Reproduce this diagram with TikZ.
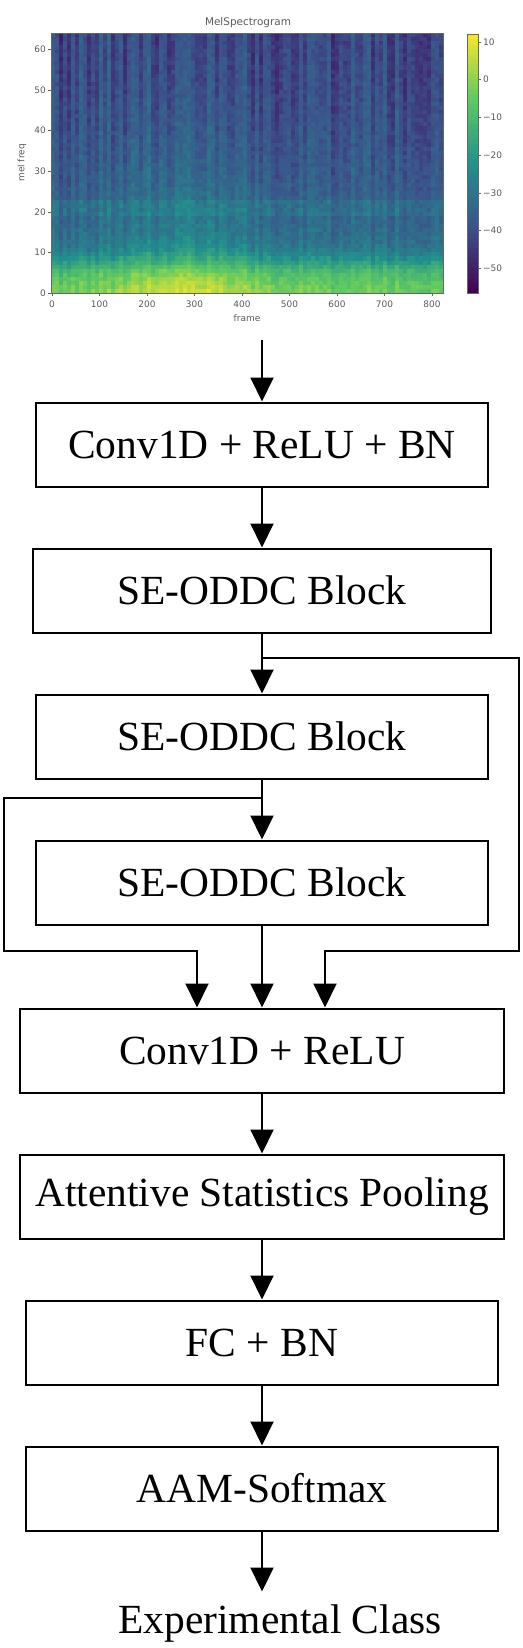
\documentclass[tikz,border=0pt]{standalone}
\usepackage{fontspec}
\setmainfont{Liberation Serif}
\newfontfamily\plotfont{DejaVu Sans}
\usepackage{tikz}
\usetikzlibrary{arrows.meta,positioning,calc}
\definecolor{vz0}{RGB}{68,1,84}
\definecolor{vz1}{RGB}{59,82,139}
\definecolor{vz2}{RGB}{33,145,140}
\definecolor{vz3}{RGB}{94,201,98}
\definecolor{vz4}{RGB}{253,231,37}
\tikzstyle{block} = [rectangle, minimum height=84bp, text centered, draw=black, line width=2bp, inner sep=0pt, font=\fontsize{41.6}{50}\selectfont]
\tikzstyle{arrow} = [line width=2bp, -{Triangle[width=23bp,length=24bp]}]
\tikzstyle{tick} = [font=\plotfont\fontsize{9}{10}\selectfont, text=black!65, inner sep=1bp]

\begin{document}
\begin{tikzpicture}[x=1bp, y=-1bp, node distance=60bp]
\useasboundingbox (0,0) rectangle (523,1648);
% mel spectrogram
\pgfmathsetseed{11}
\foreach \i in {0,...,97}{
  \pgfmathsetmacro{\cn}{0.06*rand}
  \pgfmathsetmacro{\dt}{(\i*8.4-280)/150}
  \pgfmathsetmacro{\bump}{0.15*exp(-\dt*\dt)}
  \foreach \j in {0,...,63}{
    \pgfmathsetmacro{\val}{max(0,min(0.999,0.17+0.3/(1+exp(min(8,(\j-7)/1.5)))+0.22*exp(-\j/22)+0.08*exp(-\j/60)+\bump*exp(-\j/35)+(\j>18)*(\j<23)*0.05+\cn*(0.6+\j/64)+0.04*rand))}
    \pgfmathtruncatemacro{\sa}{floor(\val*4)}
    \pgfmathtruncatemacro{\sb}{\sa+1}
    \pgfmathsetmacro{\pc}{100*(\val*4-\sa)}
    \fill[fill={vz\sb!\pc!vz\sa}] (51+4*\i,293-4.0625*\j) rectangle ++(4.1,-4.2);
  }
}
\draw[black!60, line width=0.6bp] (51,33) rectangle (443,293);
\foreach \k in {0,...,51}{
  \pgfmathsetmacro{\val}{min(0.999,(\k+0.5)/52)}
  \pgfmathtruncatemacro{\sa}{floor(\val*4)}
  \pgfmathtruncatemacro{\sb}{\sa+1}
  \pgfmathsetmacro{\pc}{100*(\val*4-\sa)}
  \fill[fill={vz\sb!\pc!vz\sa}] (467,293-4.98*\k) rectangle ++(11,-5.1);
}
\draw[black!60, line width=0.6bp] (467,34) rectangle (478,293);
\node[tick, font=\plotfont\fontsize{10.5}{12}\selectfont] at (248,23) {MelSpectrogram};
\foreach \t in {0,100,...,800}{
  \draw[black!60, line width=0.6bp] (52+0.475*\t,293) -- ++(0,3);
  \node[tick] at (52+0.475*\t,304) {\t};
}
\foreach \t in {0,10,...,60}{
  \draw[black!60, line width=0.6bp] (51,293-4.06*\t) -- ++(-3,0);
  \node[tick, anchor=east] at (47,293-4.06*\t) {\t};
}
\foreach \d/\lab in {10/10,0/0,-10/−10,-20/−20,-30/−30,-40/−40,-50/−50}{
  \draw[black!60, line width=0.6bp] (478,42+3.77*10-3.77*\d) -- ++(3,0);
  \node[tick, anchor=west] at (482,42+3.77*10-3.77*\d) {\lab};
}
\node[tick] at (247,318) {frame};
\node[tick, rotate=90] at (22,163) {mel freq};
\coordinate (spec) at (262,340);

\node (conv1) [block, minimum width=452bp] at (262,444.5) {Conv1D + ReLU + BN};
\node (se1) [block, minimum width=457bp, below=of conv1] {SE-ODDC Block};
\node (se2) [block, minimum width=451bp, below=of se1] {SE-ODDC Block};
\node (se3) [block, minimum width=452bp, below=of se2] {SE-ODDC Block};
\node (conv2) [block, minimum width=484bp, below=82bp of se3] {Conv1D + ReLU};
\node (asp) [block, minimum width=484bp, below=of conv2] {Attentive Statistics Pooling};
\node (fc) [block, minimum width=471bp, below=of asp] {FC + BN};
\node (aam) [block, minimum width=472bp, below=of fc] {AAM-Softmax};
\node (out) [below=60bp of aam, xshift=18bp, inner sep=13bp, font=\fontsize{41.6}{50}\selectfont] {Experimental Class};

\coordinate (tapA) at ($(se1.south)+(0,24)$);
\coordinate (tapB) at ($(se2.south)+(0,18)$);
\coordinate (merge) at ($(se3.south)+(0,25)$);
\coordinate (rt) at ($(se2.east)+(30,0)$);
\coordinate (lt) at ($(se3.west)+(-31,0)$);

\draw [arrow] (spec) -- (conv1);
\draw [arrow] (conv1) -- (se1);
\draw [arrow] (se1) -- (se2);
\draw [arrow] (se2) -- (se3);
\draw [arrow] (se3) -- (conv2);
\draw [arrow] (tapA) -| (rt) |- ($(merge)+(63,0)$) -- ($(conv2.north)+(63,0)$);
\draw [arrow] (tapB) -| (lt) |- ($(merge)+(-65,0)$) -- ($(conv2.north)+(-65,0)$);
\draw [arrow] (conv2) -- (asp);
\draw [arrow] (asp) -- (fc);
\draw [arrow] (fc) -- (aam);
\draw [arrow] (aam) -- (aam |- out.north);
\end{tikzpicture}
\end{document}
